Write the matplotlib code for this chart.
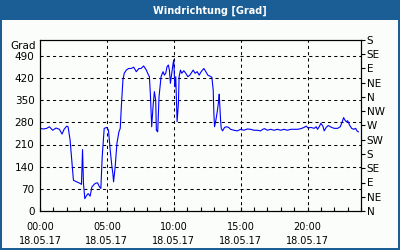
import matplotlib
matplotlib.use("Agg")
import matplotlib.pyplot as plt
from matplotlib.patches import Rectangle

# Windrichtung over the day (hours since 00:00, degrees)
hours = [0.00, 0.25, 0.50, 0.70, 0.95, 1.20, 1.45, 1.65, 1.80, 2.00, 2.10, 2.25, 2.40, 2.50,
         2.75, 3.00, 3.10, 3.18, 3.25, 3.35, 3.50, 3.60, 3.75, 3.88, 4.12, 4.30, 4.45, 4.55,
         4.65, 4.80, 5.00, 5.12, 5.25, 5.38, 5.45, 5.50, 5.62, 5.75, 5.90, 6.00, 6.08, 6.20,
         6.30, 6.45, 6.62, 6.80, 7.00, 7.20, 7.40, 7.55, 7.75, 7.95, 8.05, 8.18, 8.25, 8.35,
         8.45, 8.55, 8.65, 8.70, 8.80, 8.90, 9.05, 9.20, 9.30, 9.40, 9.50, 9.60, 9.68, 9.75,
         9.85, 9.95, 10.00, 10.08, 10.15, 10.25, 10.35, 10.40, 10.50, 10.60, 10.75, 10.90,
         11.05, 11.20, 11.30, 11.45, 11.60, 11.75, 11.90, 12.05, 12.25, 12.40, 12.55, 12.70,
         12.85, 12.95, 13.00, 13.05, 13.15, 13.25, 13.35, 13.40, 13.45, 13.50, 13.55, 13.65,
         13.80, 13.95, 14.10, 14.25, 14.50, 14.75, 15.00, 15.25, 15.50, 15.75, 16.00, 16.25,
         16.50, 16.65, 16.80, 17.00, 17.25, 17.50, 17.75, 18.00, 18.25, 18.50, 18.75, 19.00,
         19.25, 19.50, 19.75, 19.90, 20.05, 20.25, 20.50, 20.65, 20.75, 20.90, 21.00, 21.15,
         21.25, 21.40, 21.55, 21.80, 22.00, 22.25, 22.45, 22.60, 22.70, 22.80, 22.90, 23.00,
         23.15, 23.30, 23.45, 23.60, 23.70, 23.80]
grad = [261, 259, 261, 266, 255, 262, 258, 243, 258, 268, 266, 224, 150, 97,
        92, 87, 84, 194, 87, 39, 50, 55, 47, 76, 87, 89, 76, 71,
        171, 261, 264, 255, 192, 139, 118, 92, 139, 213, 250, 261, 329, 414,
        435, 445, 450, 450, 454, 440, 450, 450, 458, 445, 435, 424, 371, 266,
        329, 377, 350, 255, 250, 361, 424, 440, 429, 435, 456, 461, 443, 403,
        435, 466, 477, 392, 424, 282, 340, 424, 445, 435, 443, 435,
        424, 429, 435, 445, 435, 440, 429, 440, 450, 440, 429, 426,
        422, 382, 308, 266, 287, 313, 345, 369, 329, 287, 261, 253,
        264, 266, 264, 258, 255, 253, 258, 255, 259, 258, 255, 255,
        253, 258, 260, 255, 258, 255, 258, 255, 258, 255, 258, 258,
        258, 260, 264, 268, 262, 264, 261, 266, 258, 268, 277, 268,
        253, 264, 270, 264, 261, 261, 266, 282, 295, 287, 282, 285,
        271, 261, 258, 261, 253, 250]

xticks = [0, 5, 10, 15, 20]
xlabels = ["00:00\n18.05.17", "05:00\n18.05.17", "10:00\n18.05.17",
           "15:00\n18.05.17", "20:00\n18.05.17"]
yticks = [0, 70, 140, 210, 280, 350, 420, 490]
dir_ticks = [0, 45, 90, 135, 180, 225, 270, 315, 360, 405, 450, 495, 540]
dir_labels = ["N", "NE", "E", "SE", "S", "SW", "W", "NW", "N", "NE", "E", "SE", "S"]

blue = "#1b5e95"
fig = plt.figure(figsize=(4, 2.5), dpi=100, facecolor=blue)
fig.add_artist(Rectangle((2 / 400, 2 / 250), 396 / 400, 228 / 250,
                         transform=fig.transFigure, facecolor="#fbfdfb",
                         edgecolor="none", zorder=-10))
fig.text(209.5 / 400, 1 - 10.5 / 250, "Windrichtung [Grad]", color="white",
         fontsize=7, fontweight="bold", ha="center", va="center")

ax = fig.add_axes([40 / 400, 39 / 250, 321 / 400, 171 / 250])
ax.set_facecolor("#fbfdfb")
ax.plot(hours, grad, color="#0000ff", lw=0.8)
ax.set_xlim(0, 24)
ax.set_ylim(0, 540)

ax.set_xticks(xticks)
ax.set_xticklabels(xlabels, fontsize=7, linespacing=1.45)
ax.set_xticks(range(25), minor=True)
ax.tick_params(axis="x", which="both", direction="in", length=3, width=0.8, pad=8)
ax.set_yticks(yticks)
ax.set_yticklabels([str(v) for v in yticks], fontsize=7.5)
ax.tick_params(axis="y", length=0, pad=4)
ax.grid(True, color="black", linestyle=(0, (3, 3)), linewidth=0.75)

ax2 = ax.twinx()
ax2.set_ylim(0, 540)
ax2.set_yticks(dir_ticks)
ax2.set_yticklabels(dir_labels, fontsize=7.5)
ax2.tick_params(axis="y", direction="out", length=3, width=0.8, pad=1)

for a in (ax, ax2):
    for s in a.spines.values():
        s.set_color("black")
        s.set_linewidth(0.8)

fig.text(36 / 400, 1 - 46 / 250, "Grad", fontsize=7.5, ha="right", va="center")

fig.savefig("out.png", dpi=100, facecolor=blue)
